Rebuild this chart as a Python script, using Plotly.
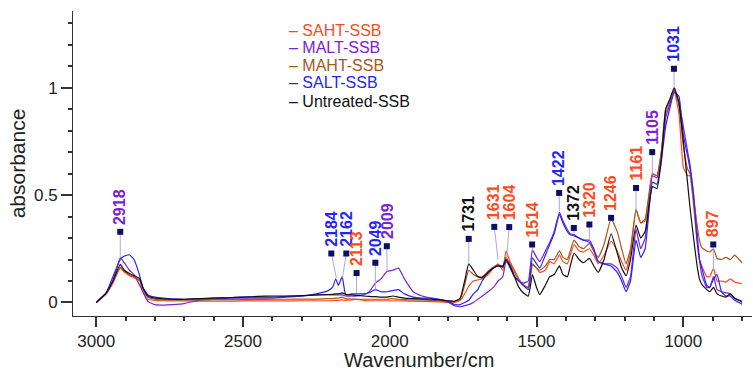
import plotly.graph_objects as go

wavenumber = [3000, 2966, 2943, 2918, 2904, 2887, 2871, 2852, 2841, 2824, 2800, 2770, 2740, 2700, 2650,
              2600, 2550, 2500, 2450, 2400, 2350, 2300, 2250, 2210, 2195, 2184, 2175, 2162, 2150, 2130,
              2113, 2090, 2070, 2049, 2030, 2009, 1990, 1970, 1950, 1920, 1890, 1860, 1830, 1800, 1780,
              1760, 1745, 1731, 1715, 1700, 1685, 1665, 1647, 1631, 1615, 1604, 1590, 1575, 1560, 1545,
              1528, 1514, 1500, 1489, 1470, 1455, 1440, 1422, 1410, 1395, 1385, 1372, 1355, 1340, 1320,
              1305, 1290, 1270, 1246, 1225, 1210, 1195, 1180, 1161, 1145, 1130, 1120, 1105, 1090, 1075,
              1060, 1045, 1031, 1015, 1000, 985, 977, 965, 954, 945, 937, 920, 910, 897, 885,
              870, 855, 840, 825, 810, 800]

untreated = [0.0, 0.045, 0.1, 0.177, 0.15, 0.135, 0.125, 0.112, 0.07, 0.03, 0.02, 0.017, 0.015, 0.015, 0.018,
             0.02, 0.022, 0.025, 0.028, 0.03, 0.03, 0.032, 0.035, 0.037, 0.038, 0.04, 0.04, 0.045, 0.038, 0.035,
             0.033, 0.03, 0.028, 0.027, 0.025, 0.025, 0.03, 0.025, 0.02, 0.018, 0.016, 0.015, 0.012, 0.008, 0.005,
             0.02, 0.1, 0.18, 0.15, 0.12, 0.115, 0.14, 0.16, 0.17, 0.165, 0.2, 0.17, 0.12, 0.07, 0.045,
             0.03, 0.13, 0.07, 0.037, 0.08, 0.12, 0.13, 0.17, 0.13, 0.12, 0.17, 0.23, 0.2, 0.185, 0.205,
             0.17, 0.14, 0.2, 0.32, 0.23, 0.16, 0.125, 0.2, 0.36, 0.3, 0.33, 0.42, 0.54, 0.53, 0.66,
             0.9, 0.95, 1.0, 0.93, 0.75, 0.55, 0.44, 0.3, 0.18, 0.11, 0.085, 0.06, 0.05, 0.07, 0.04,
             0.03, 0.025, 0.04, 0.02, 0.01, 0.005]

maht = [0.0, 0.045, 0.1, 0.165, 0.145, 0.13, 0.12, 0.105, 0.065, 0.025, 0.015, 0.012, 0.012, 0.012, 0.012,
        0.013, 0.013, 0.013, 0.014, 0.015, 0.015, 0.016, 0.016, 0.018, 0.018, 0.02, 0.02, 0.025, 0.018, 0.016,
        0.015, 0.015, 0.015, 0.015, 0.015, 0.015, 0.018, 0.015, 0.013, 0.012, 0.012, 0.01, 0.008, 0.005, 0.005,
        0.015, 0.08, 0.15, 0.13, 0.12, 0.12, 0.145, 0.165, 0.175, 0.17, 0.21, 0.18, 0.14, 0.1, 0.08,
        0.07, 0.18, 0.16, 0.15, 0.17, 0.2, 0.2, 0.24, 0.21, 0.2, 0.24, 0.29, 0.26, 0.25, 0.275,
        0.24, 0.21, 0.27, 0.39, 0.33, 0.25, 0.18, 0.25, 0.43, 0.37, 0.39, 0.47, 0.6, 0.59, 0.7,
        0.9, 0.94, 0.99, 0.92, 0.73, 0.62, 0.6, 0.48, 0.37, 0.29, 0.255, 0.24, 0.235, 0.25, 0.205,
        0.2, 0.21, 0.2, 0.22, 0.2, 0.185]

saht = [0.0, 0.04, 0.09, 0.16, 0.14, 0.125, 0.115, 0.1, 0.05, 0.015, 0.01, 0.008, 0.007, 0.007, 0.006,
        0.006, 0.006, 0.007, 0.007, 0.007, 0.007, 0.008, 0.008, 0.008, 0.009, 0.01, 0.01, 0.012, 0.01, 0.012,
        0.015, 0.01, 0.008, 0.008, 0.008, 0.008, 0.008, 0.008, 0.007, 0.006, 0.005, 0.004, 0.003, 0.0, 0.0,
        0.01, 0.04, 0.075, 0.1, 0.105, 0.11, 0.13, 0.16, 0.18, 0.15, 0.24, 0.19, 0.15, 0.11, 0.08,
        0.07, 0.175, 0.16, 0.14, 0.15, 0.19, 0.18, 0.22, 0.19, 0.18, 0.22, 0.27, 0.24, 0.235, 0.25,
        0.22, 0.18, 0.22, 0.285, 0.24, 0.19, 0.15, 0.23, 0.435, 0.37, 0.38, 0.47, 0.6, 0.59, 0.7,
        0.88, 0.93, 0.98, 0.88, 0.63, 0.59, 0.59, 0.45, 0.3, 0.2, 0.17, 0.12, 0.12, 0.16, 0.1,
        0.1, 0.095, 0.11, 0.095, 0.09, 0.087]

malt = [0.0, 0.04, 0.1, 0.208, 0.185, 0.15, 0.13, 0.08, 0.05, 0.005, -0.01, -0.012, -0.01, -0.005, 0.01,
        0.015, 0.02, 0.02, 0.02, 0.02, 0.025, 0.03, 0.035, 0.035, 0.035, 0.035, 0.035, 0.035, 0.03, 0.03,
        0.03, 0.035, 0.05, 0.09, 0.11, 0.145, 0.15, 0.16, 0.11, 0.05, 0.03, 0.02, 0.01, 0.0, -0.015,
        -0.02, -0.015, -0.01, 0.0, 0.015, 0.03, 0.05, 0.07, 0.1, 0.12, 0.19, 0.17, 0.12, 0.1, 0.09,
        0.1, 0.246, 0.21, 0.19, 0.24, 0.28, 0.33, 0.42, 0.38, 0.34, 0.32, 0.316, 0.3, 0.29, 0.28,
        0.24, 0.19, 0.18, 0.18, 0.16, 0.12, 0.07, 0.12, 0.34, 0.25, 0.3, 0.42, 0.59, 0.58, 0.68,
        0.86, 0.93, 0.99, 0.93, 0.82, 0.7, 0.64, 0.5, 0.35, 0.2, 0.13, 0.07, 0.07, 0.12, 0.06,
        0.05, 0.045, 0.04, 0.02, 0.01, 0.0]

salt = [0.0, 0.045, 0.12, 0.2, 0.216, 0.222, 0.2, 0.125, 0.07, 0.035, 0.025, 0.02, 0.017, 0.015, 0.017,
        0.02, 0.022, 0.025, 0.025, 0.025, 0.028, 0.03, 0.04, 0.055, 0.07, 0.11, 0.08, 0.12, 0.035, 0.04,
        0.04, 0.04, 0.045, 0.06, 0.05, 0.05, 0.055, 0.06, 0.04, 0.025, 0.02, 0.02, 0.015, 0.005, -0.01,
        -0.01, 0.0, 0.01, 0.04, 0.06, 0.1, 0.14, 0.16, 0.17, 0.17, 0.2, 0.16, 0.12, 0.1, 0.08,
        0.06, 0.208, 0.18, 0.16, 0.22, 0.27, 0.32, 0.41, 0.37, 0.33, 0.315, 0.31, 0.3, 0.29, 0.29,
        0.25, 0.19, 0.18, 0.17, 0.14, 0.1, 0.05, 0.1, 0.29, 0.21, 0.25, 0.38, 0.56, 0.55, 0.66,
        0.82, 0.91, 0.98, 0.96, 0.78, 0.68, 0.62, 0.5, 0.3, 0.2, 0.16, 0.08, 0.07, 0.11, 0.13,
        0.05, 0.03, 0.03, 0.01, 0.0, -0.008]

series_names = ["SAHT-SSB", "MALT-SSB", "MAHT-SSB", "SALT-SSB", "Untreated-SSB"]
series_values = [saht, malt, maht, salt, untreated]
series_colors = ["#ff4a1c", "#7a22d6", "#a8581e", "#2424ff", "#111111"]

# peak annotations
peak_labels = ["2918", "2184", "2162", "2113", "2049", "2009", "1731", "1631", "1604", "1514",
               "1422", "1372", "1320", "1246", "1161", "1105", "1031", "897"]
peak_x = [2918, 2182, 2161, 2113, 2049, 2009, 1731, 1631, 1602, 1514,
          1422, 1372, 1320, 1246, 1161, 1105, 1031, 897]
peak_y = [0.208, 0.115, 0.115, 0.045, 0.06, 0.146, 0.185, 0.2, 0.208, 0.24,
          0.427, 0.324, 0.287, 0.385, 0.427, 0.595, 0.999, 0.147]
label_x = [2918, 2199, 2148, 2113, 2049, 2010, 1731, 1644, 1593, 1515,
           1423, 1373, 1320, 1246, 1161, 1106, 1032, 898]
label_y = [0.329, 0.228, 0.228, 0.137, 0.185, 0.262, 0.296, 0.352, 0.351, 0.270,
           0.510, 0.347, 0.363, 0.394, 0.533, 0.700, 1.088, 0.270]
label_series = [1, 3, 3, 0, 3, 1, 4, 0, 0, 0, 3, 4, 0, 0, 0, 1, 3, 0]

FONT = "Liberation Sans, Arial, sans-serif"

fig = go.Figure()

for name, vals, col in zip(series_names, series_values, series_colors):
    fig.add_trace(go.Scatter(x=wavenumber, y=vals, mode="lines", name=name,
                             line=dict(color=col, width=1.2, shape="spline", smoothing=0.4),
                             showlegend=False))

# connector lines
cx, cy = [], []
for px_, py_, lx, ly in zip(peak_x, peak_y, label_x, label_y):
    cx += [px_, lx, None]
    cy += [py_, ly, None]
fig.add_trace(go.Scatter(x=cx, y=cy, mode="lines", line=dict(color="#a9a9e2", width=1),
                         showlegend=False, hoverinfo="skip"))
fig.add_trace(go.Scatter(x=label_x, y=label_y, mode="markers",
                         marker=dict(symbol="square", size=6, color="#0d0d66"),
                         showlegend=False, hoverinfo="skip"))

for txt, lx, ly, si in zip(peak_labels, label_x, label_y, label_series):
    fig.add_annotation(x=lx, y=ly, text="<b>" + txt + "</b>", textangle=-90, showarrow=False,
                       xanchor="center", yanchor="bottom", yshift=5,
                       font=dict(family=FONT, size=16, color=series_colors[si]))

# legend drawn as text
leg_y = [1.268, 1.187, 1.105, 1.022, 0.938]
for name, col, yy in zip(series_names, series_colors, leg_y):
    fig.add_annotation(x=2350, y=yy, text="–&nbsp;" + name, showarrow=False,
                       xanchor="left", yanchor="middle",
                       font=dict(family=FONT, size=16, color=col))

# x axis title
fig.add_annotation(x=0.509, y=-0.1836, xref="paper", yref="paper", text="Wavenumber/cm",
                   showarrow=False, xanchor="center", yanchor="bottom", borderpad=0,
                   font=dict(family=FONT, size=20, color="#222222"))

fig.update_layout(
    width=753, height=372,
    margin=dict(l=73, r=1, t=11, b=56),
    paper_bgcolor="white", plot_bgcolor="white",
    font=dict(family=FONT, size=17, color="#222222"),
    xaxis=dict(range=[3079, 766], showgrid=False, zeroline=False, automargin=False,
               showline=True, linecolor="#333333", linewidth=1,
               ticks="outside", ticklen=10, tickwidth=1.5, tickcolor="#333333",
               tickvals=[3000, 2500, 2000, 1500, 1000],
               tickfont=dict(size=17, family=FONT, color="#222222"),
               minor=dict(dtick=100, tick0=0, ticks="outside", ticklen=4, tickcolor="#333333")),
    yaxis=dict(range=[-0.063, 1.357], showgrid=False, zeroline=False, automargin=False,
               showline=True, linecolor="#333333", linewidth=1,
               ticks="outside", ticklen=11, tickwidth=1.5, tickcolor="#333333",
               tickvals=[0, 0.5, 1], ticktext=["0", "0.5", "1"],
               tickfont=dict(size=17, family=FONT, color="#222222"),
               minor=dict(dtick=0.1, tick0=0, ticks="outside", ticklen=4, tickcolor="#333333"),
               title=dict(text="absorbance", font=dict(size=21, family=FONT, color="#222222"),
                          standoff=2)),
)

fig.write_html("out.html")
